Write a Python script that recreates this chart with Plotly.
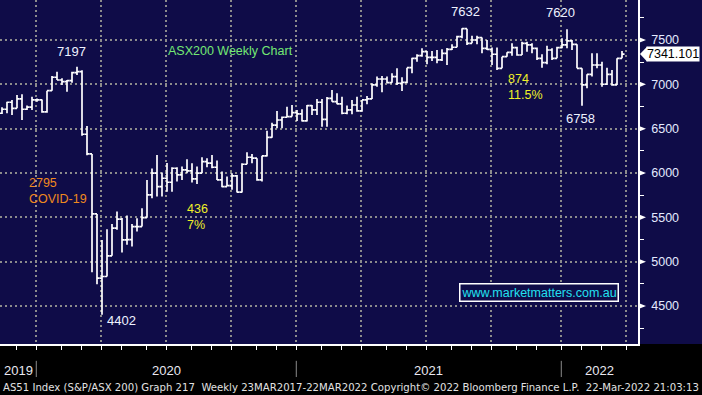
import pandas as pd
import plotly.graph_objects as go

# ---------------- data (weekly bars) ----------------
first_week = "2019-11-08"
open_ = [6674, 6719, 6798, 6730, 6835, 6719, 6742, 6824, 6824, 6690,
         6929, 7080, 7049, 7030, 7041, 7132, 7143, 6437, 6215, 5539,
         4814, 4833, 5066, 5378, 5479, 5246, 5250, 5396, 5396, 5497,
         5753, 5998, 5847, 5941, 5896, 6054, 5979, 6035, 6024, 5933,
         5998, 6129, 6111, 6065, 5922, 5847, 5858, 5967, 5785, 6099,
         6178, 6167, 5922, 6193, 6403, 6539, 6598, 6629, 6636, 6681,
         6666, 6587, 6760, 6711, 6798, 6606, 6841, 6805, 6780, 6674,
         6711, 6767, 6700, 6824, 6835, 6993, 7060, 7060, 7019, 7087,
         7012, 7023, 7188, 7293, 7323, 7368, 7305, 7305, 7275, 7350,
         7395, 7418, 7538, 7628, 7462, 7500, 7527, 7406, 7395, 7339,
         7181, 7312, 7361, 7414, 7331, 7462, 7444, 7406, 7293, 7244,
         7387, 7293, 7414, 7444, 7489, 7451, 7181, 6993, 7113, 7218,
         7218, 7001, 7113, 6993, 7293]
high = [6742, 6805, 6824, 6880, 6888, 6760, 6861, 6840, 6830, 6929,
        7094, 7143, 7068, 7049, 7143, 7197, 7160, 6531, 6215, 5539,
        5246, 5367, 5426, 5565, 5494, 5520, 5426, 5490, 5603, 5922,
        6050, 6204, 6005, 6114, 6065, 6065, 6073, 6156, 6111, 6073,
        6178, 6167, 6204, 6140, 6016, 5960, 5998, 5979, 6111, 6234,
        6215, 6167, 6196, 6478, 6568, 6700, 6636, 6748, 6767, 6711,
        6719, 6767, 6767, 6835, 6835, 6857, 6936, 6899, 6861, 6760,
        6824, 6861, 6824, 6869, 7012, 7087, 7094, 7087, 7125, 7181,
        7080, 7188, 7301, 7339, 7406, 7376, 7376, 7387, 7395, 7410,
        7451, 7549, 7632, 7628, 7549, 7549, 7527, 7500, 7414, 7414,
        7312, 7361, 7462, 7425, 7481, 7481, 7462, 7414, 7339, 7436,
        7406, 7425, 7519, 7620, 7500, 7451, 7181, 7113, 7350, 7350,
        7255, 7188, 7162, 7293, 7376]
low = [6666, 6674, 6655, 6730, 6598, 6711, 6711, 6805, 6681, 6681,
       6929, 7049, 6993, 6917, 7019, 7106, 6420, 6200, 4882, 4747,
       4402, 4833, 5066, 5359, 5103, 5190, 5171, 5340, 5396, 5497,
       5716, 5734, 5734, 5790, 5790, 5903, 5922, 5998, 5892, 5877,
       5998, 6065, 6054, 5922, 5840, 5847, 5810, 5779, 5779, 6099,
       6111, 5914, 5903, 6185, 6399, 6505, 6505, 6629, 6636, 6587,
       6580, 6580, 6655, 6655, 6523, 6523, 6805, 6775, 6663, 6663,
       6663, 6692, 6692, 6775, 6835, 6974, 6911, 7012, 7019, 6993,
       6925, 7012, 7125, 7255, 7312, 7226, 7263, 7237, 7263, 7218,
       7387, 7418, 7519, 7444, 7462, 7451, 7350, 7387, 7218, 7162,
       7181, 7312, 7323, 7323, 7331, 7368, 7350, 7275, 7188, 7226,
       7275, 7293, 7406, 7406, 7387, 7181, 6758, 6955, 7087, 7181,
       6974, 6993, 6985, 6993, 7293]
close = [6719, 6798, 6730, 6835, 6719, 6742, 6824, 6824, 6690, 6929,
         7080, 7049, 7030, 7041, 7132, 7143, 6437, 6215, 5539, 4814,
         4833, 5066, 5378, 5479, 5246, 5250, 5396, 5396, 5497, 5753,
         5998, 5847, 5941, 5896, 6054, 5979, 6035, 6024, 5933, 5998,
         6129, 6111, 6065, 5922, 5847, 5858, 5967, 5785, 6099, 6178,
         6167, 5922, 6193, 6403, 6539, 6598, 6629, 6636, 6681, 6666,
         6587, 6760, 6711, 6798, 6606, 6841, 6805, 6780, 6674, 6711,
         6767, 6700, 6824, 6835, 6993, 7060, 7060, 7019, 7087, 7012,
         7023, 7188, 7293, 7323, 7368, 7305, 7305, 7275, 7350, 7395,
         7418, 7538, 7628, 7462, 7500, 7527, 7406, 7395, 7339, 7181,
         7312, 7361, 7414, 7331, 7462, 7444, 7406, 7293, 7244, 7387,
         7293, 7414, 7444, 7489, 7451, 7181, 6993, 7113, 7218, 7218,
         7001, 7113, 6993, 7293, 7341.101]

y_ticks = [4500, 5000, 5500, 6000, 6500, 7000, 7500]
quarter_grid = ["2019-12-26", "2020-03-26", "2020-06-25", "2020-09-24",
                "2020-12-24", "2021-03-25", "2021-06-24", "2021-09-23",
                "2021-12-30", "2022-03-31"]
month_ticks = ["2019-11-28", "2019-12-26", "2020-01-30", "2020-02-27",
               "2020-03-26", "2020-04-23", "2020-05-28", "2020-06-25",
               "2020-07-30", "2020-08-27", "2020-09-24", "2020-10-29",
               "2020-11-26", "2020-12-24", "2021-01-28", "2021-02-25",
               "2021-03-25", "2021-04-29", "2021-05-27", "2021-06-24",
               "2021-07-29", "2021-08-26", "2021-09-23", "2021-10-28",
               "2021-11-25", "2021-12-30", "2022-01-27", "2022-02-24",
               "2022-03-31"]
year_labels = ["2019", "2020", "2021", "2022"]
year_seps = ["2019-12-26", "2020-12-24", "2021-12-30"]
x_range = ["2019-11-05 04:48", "2022-04-16 09:36"]
y_range = [4072, 7951]

dates = pd.date_range(first_week, periods=len(close), freq="W-FRI")

NAVY = "#0F0C48"
GRID = "#8C8C8C"
FONT = "Liberation Sans, Arial, sans-serif"


def ypaper(v):
    """value -> paper fraction on the price axis"""
    return (v - y_range[0]) / (y_range[1] - y_range[0])


fig = go.Figure(go.Ohlc(
    x=dates, open=open_, high=high, low=low, close=close,
    increasing=dict(line=dict(color="white", width=1.7)),
    decreasing=dict(line=dict(color="white", width=1.7)),
    tickwidth=0.5, hoverinfo="skip",
))

fig.update_layout(
    width=702, height=395, autosize=False,
    margin=dict(l=0, r=64, t=0, b=51),
    paper_bgcolor=NAVY, plot_bgcolor=NAVY,
    showlegend=False,
    xaxis=dict(
        type="date", range=x_range, rangeslider=dict(visible=False),
        tickmode="array", tickvals=quarter_grid, showticklabels=False,
        ticks="outside", ticklen=4, tickcolor="white", tickwidth=1,
        showgrid=True, gridcolor=GRID, gridwidth=2, griddash="2px,3px",
        minor=dict(tickmode="array", tickvals=month_ticks, ticks="outside",
                   ticklen=4, tickcolor="white", tickwidth=1, showgrid=False),
        showline=True, linecolor="white", linewidth=1.5, zeroline=False,
    ),
    yaxis=dict(
        side="right", range=y_range,
        tickmode="array", tickvals=y_ticks, ticktext=[str(v) for v in y_ticks],
        ticks="", ticklabelstandoff=9,
        tickfont=dict(family=FONT, size=12.5, color="#E4EAFF"),
        showgrid=True, gridcolor=GRID, gridwidth=2, griddash="2px,3px",
        minor=dict(dtick=250, tick0=0, ticks="outside", ticklen=4,
                   tickcolor="white", tickwidth=1, showgrid=False),
        showline=True, linecolor="white", linewidth=1.5, zeroline=False,
    ),
)

shapes = []
# black band under the plot
shapes.append(dict(type="rect", xref="paper", yref="paper", x0=-0.02, x1=1.12,
                   y0=-0.2, y1=0, fillcolor="black", line=dict(width=0),
                   layer="below"))
# tick arrows on the price axis
dh = 2.8 / 344
for v in y_ticks:
    p = ypaper(v)
    shapes.append(dict(type="path", xref="paper", yref="paper",
                       path=f"M 1.0016,{p - dh} L 1.0125,{p} L 1.0016,{p + dh} Z",
                       fillcolor="white", line=dict(width=0)))
# year separators
for d in year_seps:
    shapes.append(dict(type="line", xref="x", yref="paper", x0=d, x1=d,
                       y0=-0.049, y1=-0.096, line=dict(color="#8A8A8A", width=1)))
# last price flag arrow
last = close[-1]
pl = ypaper(last)
fh = 7.7 / 344
shapes.append(dict(type="path", xref="paper", yref="paper",
                   path=f"M 1.0031,{pl} L 1.0145,{pl + fh} L 1.0145,{pl - fh} Z",
                   fillcolor="white", line=dict(width=0)))
fig.update_layout(shapes=shapes)

ann = []
# year labels centred between separators
bounds = [pd.Timestamp(x_range[0])] + [pd.Timestamp(d) for d in year_seps] + [pd.Timestamp(x_range[1])]
for i, lab in enumerate(year_labels):
    mid = bounds[i] + (bounds[i + 1] - bounds[i]) / 2
    ann.append(dict(x=mid, y=-0.0756, xref="x", yref="paper", text=lab,
                    showarrow=False, yanchor="middle",
                    font=dict(family=FONT, size=13, color="#E8E8F0")))


# price extremes labels, tied to the bars
def hi_lo_label(idx, val, dx, dy):
    ann.append(dict(x=dates[idx], y=val, xref="x", yref="y", text=f"{val:.0f}",
                    showarrow=False, xshift=dx, yshift=dy,
                    font=dict(family=FONT, size=13, color="#EEF2FF")))


hi_lo_label(15, high[15], -6, 15)
hi_lo_label(20, low[20], 19, -6)
hi_lo_label(92, high[92], 3, 17)
hi_lo_label(113, high[113], -7, 17)
hi_lo_label(116, low[116], -2, -13)

ann.append(dict(x=166 / 638, y=1 - 51 / 344, xref="paper", yref="paper",
                text="ASX200 Weekly Chart", showarrow=False, xanchor="left",
                yanchor="middle", font=dict(family=FONT, size=12.5, color="#74E874")))
ann.append(dict(x=27 / 638, y=1 - 191 / 344, xref="paper", yref="paper",
                text="2795<br>COVID-19", showarrow=False, xanchor="left", align="left",
                yanchor="middle", font=dict(family=FONT, size=12.5, color="#F08A1E")))
ann.append(dict(x=185 / 638, y=1 - 217 / 344, xref="paper", yref="paper",
                text="436<br>7%", showarrow=False, xanchor="left", align="left",
                yanchor="middle", font=dict(family=FONT, size=12.5, color="#F0F028")))
ann.append(dict(x=506 / 638, y=1 - 86.5 / 344, xref="paper", yref="paper",
                text="874<br>11.5%", showarrow=False, xanchor="left", align="left",
                yanchor="middle", font=dict(family=FONT, size=12.5, color="#F0F028")))
ann.append(dict(x=538.5 / 638, y=1 - 292 / 344, xref="paper", yref="paper",
                text="www.marketmatters.com.au", showarrow=False,
                xanchor="center", yanchor="middle", bgcolor=NAVY,
                bordercolor="white", borderwidth=1.5, borderpad=1,
                font=dict(family=FONT, size=12.5, color="#22E0F0")))
# last price flag
ann.append(dict(x=646 / 638, y=pl, xref="paper", yref="paper",
                text=f"{last:.3f}", showarrow=False, xanchor="left",
                yanchor="middle", bgcolor="white", borderpad=0,
                font=dict(family=FONT, size=12.5, color="black")))
# footer
ann.append(dict(x=1 / 638, y=-0.1265, xref="paper", yref="paper",
                text="AS51 Index (S&amp;P/ASX 200) Graph 217\u00a0 Weekly 23MAR2017-22MAR2022 "
                     "Copyright\u00a9 2022 Bloomberg Finance L.P.\u00a0 22-Mar-2022 21:03:13",
                showarrow=False, xanchor="left", yanchor="middle",
                font=dict(family="DejaVu Sans, sans-serif", size=10.15, color="#E2E2E2")))
fig.update_layout(annotations=ann)

fig.write_html("out.html", config={"displayModeBar": False},
               post_script="document.body.style.margin='0';document.body.style.background='black';")
